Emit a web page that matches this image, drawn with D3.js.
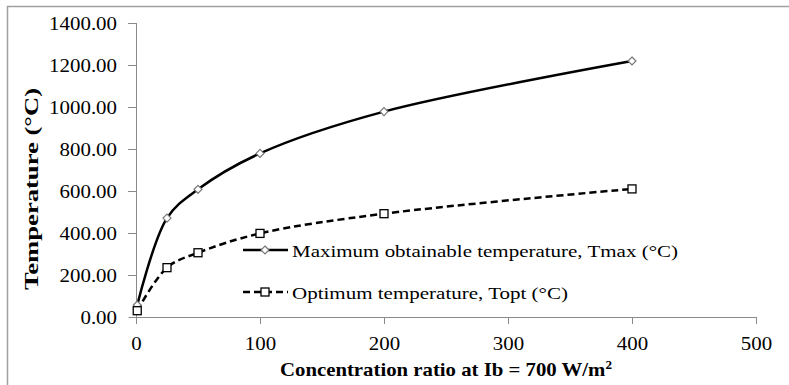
<!DOCTYPE html>
<html>
<head>
	<meta charset="utf-8">
	<title>Temperature vs concentration ratio</title>
	<script src="https://cdn.jsdelivr.net/npm/d3@7"></script>
	<style>
		body { margin: 0; background: #fff; }
		text { font-family: "Liberation Serif", "Times New Roman", serif; fill: #000; }
	</style>
</head>
<body>
	<svg id="chart" width="789" height="385"></svg>
	<script>
		// data
		const ratios = [1, 25, 50, 100, 200, 400];
		const tmax = [57, 471, 608, 779, 978, 1219];
		const topt = [30, 235, 306, 398, 492, 610];
		const xTicks = [0, 100, 200, 300, 400, 500];
		const yTicks = [0, 200, 400, 600, 800, 1000, 1200, 1400];
		const seriesNames = ["Maximum obtainable temperature, Tmax (\u00B0C)", "Optimum temperature, Topt (\u00B0C)"];

		const svg = d3.select("#chart");
		const axisColor = "#8a8a8a";

		// outer frame (only top and left edges show)
		svg.append("path")
			.attr("d", "M7.5,385V6.5H789")
			.attr("fill", "none")
			.attr("stroke", "#a0a0a0")
			.attr("stroke-width", 1.5);

		const x = d3.scaleLinear().domain([0, 500]).range([136, 756]);
		const y = d3.scaleLinear().domain([0, 1400]).range([317, 23]);

		// x axis
		const gx = svg.append("g")
			.attr("transform", "translate(0," + y(0) + ")")
			.call(d3.axisBottom(x).tickValues(xTicks).tickSize(7).tickPadding(13).tickFormat(d3.format("d")));
		gx.select(".domain").attr("d", "M128.5,0.5H" + x(500)).attr("stroke", axisColor);
		gx.selectAll(".tick line").attr("stroke", axisColor);

		// y axis
		const gy = svg.append("g")
			.attr("transform", "translate(" + x(0) + ",0)")
			.call(d3.axisLeft(y).tickValues(yTicks).tickSize(8).tickPadding(11).tickFormat(d3.format(".2f")));
		gy.select(".domain").attr("d", "M0.5," + y(1400) + "V" + y(0)).attr("stroke", axisColor);
		gy.selectAll(".tick line").attr("stroke", axisColor);
		gy.selectAll(".tick").filter(d => d === 0).select("line").remove();

		svg.selectAll(".tick text")
			.attr("font-family", "Liberation Serif")
			.attr("font-size", 19)
			.attr("fill", "#000")
			.each(function () {
				const w = this.getComputedTextLength();
				d3.select(this).attr("textLength", w * 1.1).attr("lengthAdjust", "spacingAndGlyphs");
			});

		// axis titles
		const xt = svg.append("text")
			.attr("x", (x(0) + x(500)) / 2)
			.attr("y", 376)
			.attr("text-anchor", "middle")
			.attr("font-size", 19)
			.attr("font-weight", "bold")
			.attr("textLength", 332)
			.attr("lengthAdjust", "spacingAndGlyphs");
		xt.append("tspan").text("Concentration ratio at Ib = 700 W/m");
		xt.append("tspan").attr("dy", -7).attr("font-size", 12).text("2");

		svg.append("text")
			.attr("transform", "translate(38,189) rotate(-90)")
			.attr("text-anchor", "middle")
			.attr("font-size", 18)
			.attr("font-weight", "bold")
			.attr("textLength", 202)
			.attr("lengthAdjust", "spacingAndGlyphs")
			.text("Temperature (\u00B0C)");

		// lines
		const line = d3.line()
			.x((d, i) => x(ratios[i]))
			.y(d => y(d))
			.curve(d3.curveCatmullRom.alpha(0.5));

		svg.append("path")
			.attr("d", line(tmax))
			.attr("fill", "none")
			.attr("stroke", "#000")
			.attr("stroke-width", 2.5);

		svg.append("path")
			.attr("d", line(topt))
			.attr("fill", "none")
			.attr("stroke", "#000")
			.attr("stroke-width", 2.5)
			.attr("stroke-dasharray", "7,4");

		// markers
		const diamond = d3.symbol().type(d3.symbolDiamond2).size(40);
		svg.append("g").selectAll("path")
			.data(tmax)
			.join("path")
			.attr("transform", (d, i) => "translate(" + x(ratios[i]) + "," + y(d) + ")")
			.attr("d", diamond)
			.attr("fill", "#fff")
			.attr("stroke", "#777")
			.attr("stroke-width", 1.2);

		svg.append("g").selectAll("rect")
			.data(topt)
			.join("rect")
			.attr("x", (d, i) => x(ratios[i]) - 4)
			.attr("y", d => y(d) - 4)
			.attr("width", 8)
			.attr("height", 8)
			.attr("fill", "#fff")
			.attr("stroke", "#000")
			.attr("stroke-width", 1.3);

		// legend
		const legend = svg.append("g");
		const ly = [250, 292];
		const lw = [386, 276];
		legend.append("line").attr("x1", 243).attr("x2", 288).attr("y1", ly[0]).attr("y2", ly[0])
			.attr("stroke", "#000").attr("stroke-width", 2.5);
		legend.append("path").attr("transform", "translate(265," + ly[0] + ")").attr("d", diamond)
			.attr("fill", "#fff").attr("stroke", "#777").attr("stroke-width", 1.2);
		legend.append("line").attr("x1", 243).attr("x2", 288).attr("y1", ly[1]).attr("y2", ly[1])
			.attr("stroke", "#000").attr("stroke-width", 2.5).attr("stroke-dasharray", "7,4");
		legend.append("rect").attr("x", 261).attr("y", ly[1] - 4).attr("width", 8).attr("height", 8)
			.attr("fill", "#fff").attr("stroke", "#000").attr("stroke-width", 1.3);
		legend.selectAll("text")
			.data(seriesNames)
			.join("text")
			.attr("x", 292)
			.attr("y", (d, i) => ly[i] + 7)
			.attr("font-size", 17)
			.attr("textLength", (d, i) => lw[i])
			.attr("lengthAdjust", "spacingAndGlyphs")
			.text(d => d);
	</script>
</body>
</html>
